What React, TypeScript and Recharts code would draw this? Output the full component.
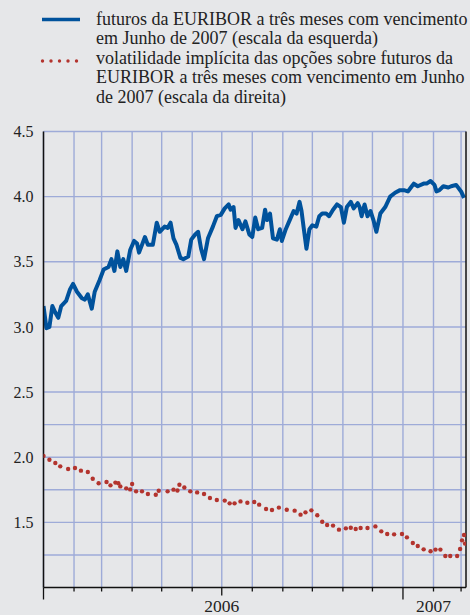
import { CartesianGrid, ComposedChart, Line, XAxis, YAxis } from "recharts";

// days counted from 1 Jan 2006
const MONTH_TICKS = [0, 31, 59, 90, 120, 151, 181, 212, 243, 273, 304, 334, 365, 396, 424];
const YEAR_LABELS: Record<number, string> = { 181: "2006", 396: "2007" };
const Y_TICKS = [1.5, 2.0, 2.5, 3.0, 3.5, 4.0, 4.5];
const GRID_Y = [1.25, 1.5, 1.75, 2.0, 2.25, 2.5, 3.0, 3.5, 4.0, 4.5];

const FUT_DAYS = [
  0, 3, 6, 9, 12, 15, 18, 23, 27, 30, 34, 39, 42, 45, 49, 52, 57, 61, 66, 69, 72, 75, 78, 81, 84, 88,
  92, 95, 97, 100, 103, 106, 111, 115, 118, 123, 126, 129, 132, 135, 139, 142, 147, 150, 154, 157,
  160, 163, 167, 172, 176, 180, 184, 188, 190, 193, 195, 198, 202, 205, 209, 212, 215, 218, 222,
  225, 227, 230, 233, 237, 240, 242, 246, 250, 254, 257, 260, 262, 264, 267, 270, 273, 277, 280,
  283, 287, 290, 294, 298, 302, 305, 308, 312, 315, 319, 321, 323, 326, 329, 332, 335, 338, 342,
  347, 352, 357, 362, 366, 370, 374, 376, 380, 386, 389, 393, 397, 399, 402, 406, 411, 414, 419,
  424, 427,
];
const FUT_VALUES = [
  3.16, 2.99, 3.0, 3.16, 3.11, 3.07, 3.16, 3.2, 3.29, 3.33, 3.27, 3.22, 3.21, 3.25, 3.14, 3.27, 3.36,
  3.44, 3.46, 3.52, 3.43, 3.58, 3.46, 3.52, 3.43, 3.59, 3.66, 3.64, 3.57, 3.63, 3.69, 3.63, 3.63,
  3.8, 3.73, 3.77, 3.76, 3.8, 3.68, 3.63, 3.53, 3.52, 3.54, 3.67, 3.71, 3.73, 3.6, 3.52, 3.68, 3.77,
  3.85, 3.86, 3.91, 3.94, 3.9, 3.92, 3.76, 3.82, 3.75, 3.81, 3.71, 3.69, 3.84, 3.75, 3.76, 3.9,
  3.82, 3.87, 3.68, 3.67, 3.75, 3.66, 3.75, 3.82, 3.89, 3.87, 3.96, 3.89, 3.77, 3.6, 3.75, 3.78,
  3.77, 3.85, 3.87, 3.87, 3.85, 3.9, 3.94, 3.92, 3.8, 3.92, 3.96, 3.91, 3.95, 3.92, 3.85, 3.94,
  3.85, 3.89, 3.82, 3.73, 3.87, 3.92, 4.0, 4.03, 4.05, 4.05, 4.04, 4.08, 4.1, 4.08, 4.1, 4.1, 4.12,
  4.09, 4.04, 4.05, 4.08, 4.07, 4.08, 4.09, 4.04, 3.99,
];

const VOL_DAYS = [
  0, 6, 12, 17, 25, 32, 38, 45, 50, 56, 64, 68, 73, 76, 78, 84, 88, 90, 94, 100, 106, 114, 117, 126,
  132, 136, 138, 143, 149, 156, 163, 169, 176, 184, 189, 194, 200, 207, 214, 219, 226, 232, 239,
  247, 255, 261, 266, 272, 278, 283, 288, 294, 300, 307, 312, 317, 322, 329, 337, 343, 349, 356,
  364, 369, 375, 380, 386, 393, 398, 403, 408, 413, 420, 423, 425, 427, 428,
];
const VOL_VALUES = [
  2.01, 1.98, 1.956, 1.93, 1.91, 1.917, 1.897, 1.887, 1.835, 1.8, 1.81, 1.784, 1.805, 1.8, 1.776,
  1.761, 1.753, 1.794, 1.738, 1.738, 1.718, 1.712, 1.743, 1.738, 1.751, 1.745, 1.789, 1.768, 1.738,
  1.73, 1.718, 1.687, 1.672, 1.667, 1.646, 1.646, 1.661, 1.651, 1.656, 1.636, 1.603, 1.595, 1.613,
  1.597, 1.59, 1.559, 1.577, 1.592, 1.554, 1.505, 1.48, 1.475, 1.444, 1.454, 1.459, 1.449, 1.457,
  1.457, 1.469, 1.431, 1.411, 1.408, 1.411, 1.385, 1.342, 1.319, 1.293, 1.278, 1.291, 1.291, 1.242,
  1.242, 1.242, 1.296, 1.362, 1.403, 1.337,
];

const futures = FUT_DAYS.map((day, i) => ({ day, v: FUT_VALUES[i] }));
const volatility = VOL_DAYS.map((day, i) => ({ day, v: VOL_VALUES[i] }));

const BG = "#e6e7e9";
const GRID = "#9eabd8";
const BLUE = "#00529c";
const RED = "#b3342e";
const INK = "#222222";
const FONT = "'Liberation Serif', 'Times New Roman', serif";

function XTick({ x, y, payload }: any) {
  const v = payload.value as number;
  const len = v === 0 || v === 365 ? 12 : v === 181 ? 8 : 4;
  const label = YEAR_LABELS[v];
  return (
    <g>
      <line x1={x} x2={x} y1={y} y2={y + len} stroke="#111" strokeWidth={1.3} />
      {label ? (
        <text x={x} y={y + 24} textAnchor="middle" fill={INK} fontSize={17.5} fontFamily={FONT}>
          {label}
        </text>
      ) : null}
    </g>
  );
}

function LegendBlock() {
  const lines = [
    "futuros da EURIBOR a três meses com vencimento",
    "em Junho de 2007 (escala da esquerda)",
    "volatilidade implícita das opções sobre futuros da",
    "EURIBOR a três meses com vencimento em Junho",
    "de 2007 (escala da direita)",
  ];
  return (
    <div style={{ position: "absolute", left: 0, top: 0, width: 470, height: 120 }}>
      <svg width={100} height={80} style={{ position: "absolute", left: 0, top: 0 }}>
        <line x1={42} x2={80} y1={19.5} y2={19.5} stroke={BLUE} strokeWidth={3.5} />
        {[42.5, 51, 59.5, 68, 76.5].map((cx) => (
          <circle key={cx} cx={cx} cy={61} r={1.7} fill={RED} />
        ))}
      </svg>
      <div
        style={{
          position: "absolute",
          left: 96,
          top: 10,
          fontFamily: FONT,
          fontSize: 18,
          lineHeight: "19.4px",
          color: INK,
          whiteSpace: "nowrap",
        }}
      >
        {lines.map((l) => (
          <div key={l}>{l}</div>
        ))}
      </div>
    </div>
  );
}

export default function App() {
  return (
    <div
      style={{
        position: "absolute",
        left: 0,
        top: 0,
        width: 470,
        height: 615,
        background: BG,
        overflow: "hidden",
      }}
    >
      <LegendBlock />
      <div style={{ position: "absolute", left: 0, top: 0 }}>
        <ComposedChart width={470} height={615} margin={{ top: 131.5, right: 0, bottom: 0, left: 0 }}>
          <CartesianGrid
            yAxisId="left"
            stroke={GRID}
            strokeWidth={1.4}
            horizontalValues={GRID_Y}
            verticalValues={MONTH_TICKS}
            syncWithTicks={false}
          />
          <XAxis
            dataKey="day"
            type="number"
            domain={[0, 429]}
            ticks={MONTH_TICKS}
            interval={0}
            height={27.5}
            tickSize={0}
            tickMargin={0}
            tickLine={false}
            axisLine={{ stroke: "#111", strokeWidth: 1.5 }}
            tick={<XTick />}
            allowDataOverflow
          />
          <YAxis
            yAxisId="left"
            domain={[1, 4.5]}
            ticks={Y_TICKS}
            width={43.5}
            tickSize={0}
            tickMargin={10}
            tickLine={false}
            axisLine={{ stroke: "#111", strokeWidth: 1.5 }}
            tick={{ fill: INK, fontSize: 16, fontFamily: FONT }}
            tickFormatter={(v: number) => v.toFixed(1)}
            allowDataOverflow
          />
          <YAxis
            yAxisId="right"
            orientation="right"
            domain={[1, 4.5]}
            width={4}
            tick={false}
            tickLine={false}
            axisLine={{ stroke: "#111", strokeWidth: 1.5 }}
            allowDataOverflow
          />
          <Line
            yAxisId="left"
            data={futures}
            dataKey="v"
            type="linear"
            stroke={BLUE}
            strokeWidth={4}
            strokeLinejoin="round"
            dot={false}
            isAnimationActive={false}
          />
          <Line
            yAxisId="right"
            data={volatility}
            dataKey="v"
            type="linear"
            stroke="none"
            dot={{ r: 2.2, fill: RED, stroke: "none" }}
            isAnimationActive={false}
          />
        </ComposedChart>
      </div>
    </div>
  );
}
